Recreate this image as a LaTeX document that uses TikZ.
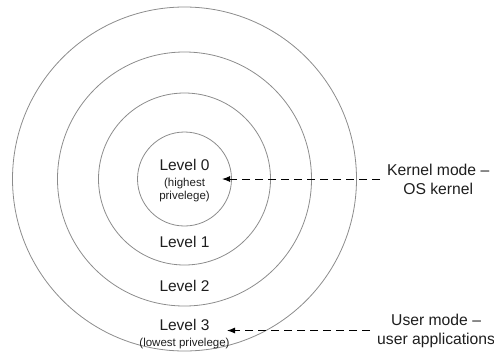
\documentclass[tikz,border=0pt]{standalone}
\usepackage{fontspec}
\setmainfont{Liberation Sans}
\usetikzlibrary{arrows.meta}
\begin{document}
\begin{tikzpicture}[x=1pt,y=-1pt,
  ring/.style={circle,draw={rgb,255:red,140;green,140;blue,140},line width=0.8pt,inner sep=0pt},
  bigtext/.style={anchor=base,inner sep=0pt,text={rgb,255:red,30;green,30;blue,30},font=\fontsize{15.5}{19}\selectfont},
  smalltext/.style={anchor=base,inner sep=0pt,text={rgb,255:red,30;green,30;blue,30},font=\fontsize{11.5}{13}\selectfont},
  modelabel/.style={align=center,inner sep=0pt,text={rgb,255:red,30;green,30;blue,30},font=\fontsize{15.7}{19}\selectfont},
  pointer/.style={dashed,dash pattern=on 8pt off 5pt,line width=1pt,shorten <=7pt,-{Latex[length=8pt,width=6pt]}}]
\useasboundingbox (0,0) rectangle (494,351);

% concentric protection rings
\coordinate (c) at (184.5,179);
\node[ring,minimum size=94pt]  (ring0) at (c) {};
\node[ring,minimum size=172pt] (ring1) at (c) {};
\node[ring,minimum size=254pt] (ring2) at (c) {};
\node[ring,minimum size=344pt] (ring3) at (c) {};

% ring labels
\node[bigtext]   (lv0)  at (184.5,170) {Level 0};
\node[smalltext] (lv0a) at (184.5,186) {(highest};
\node[smalltext] (lv0b) at (184.5,199) {privelege)};
\node[bigtext]   (lv1)  at (184.5,247) {Level 1};
\node[bigtext]   (lv2)  at (184.5,291) {Level 2};
\node[bigtext]   (lv3)  at (184.5,330) {Level 3};
\node[smalltext] (lv3a) at (184.5,346) {(lowest privelege)};

% mode labels
\node[modelabel,anchor=west] (kernel) at (387,179) {Kernel mode --\\OS kernel};
\node[modelabel,anchor=west] (user)   at (377,330.5) {User mode --\\user applications};

% pointers into the rings
\coordinate (kt) at (222,179);
\coordinate (ut) at (227,330.5);
\draw[pointer] (kernel.west) -- (kt);
\draw[pointer] (user.west) -- (ut);
\end{tikzpicture}
\end{document}
